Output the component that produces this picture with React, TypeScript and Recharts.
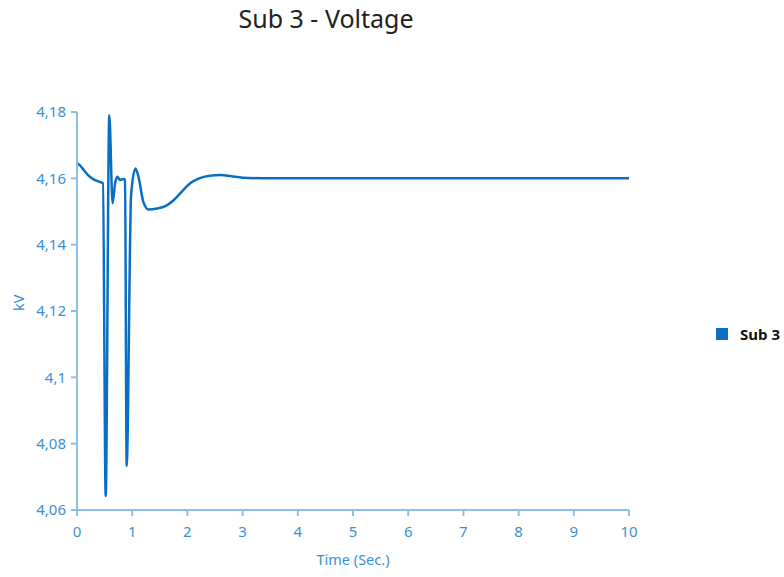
import React from 'react';
import { LineChart, Line, XAxis, YAxis } from 'recharts';

// time in seconds, voltage in kV
const times = [
  0, 0.05, 0.1, 0.2, 0.3, 0.4, 0.47, 0.52, 0.585, 0.645, 0.69, 0.73, 0.78, 0.84, 0.87,
  0.9, 0.98, 1.06, 1.12, 1.2, 1.3, 1.45, 1.6, 1.75, 1.9, 2.05, 2.2, 2.4, 2.6, 2.8, 3.0,
  3.5, 4, 5, 6, 7, 8, 9, 10,
];
const sub3 = [
  4.1645, 4.164, 4.163, 4.161, 4.1597, 4.159, 4.1585, 4.0642, 4.179, 4.1525, 4.1585, 4.1605,
  4.1595, 4.1598, 4.1595, 4.0733, 4.155, 4.163, 4.16, 4.153, 4.1506, 4.1509, 4.1516, 4.1534,
  4.156, 4.1585, 4.1599, 4.1608, 4.161, 4.1606, 4.1602, 4.16, 4.16, 4.16, 4.16, 4.16, 4.16,
  4.16, 4.16,
];
const xTicks = [0, 1, 2, 3, 4, 5, 6, 7, 8, 9, 10];
const yTicks = [4.06, 4.08, 4.1, 4.12, 4.14, 4.16, 4.18];

const data = times.map((t, i) => ({ t, v: sub3[i] }));

const FONT = '"Segoe UI", "Noto Sans", "Open Sans", sans-serif';
const AXIS = '#8cc0ea';
const TICK = '#3a8fd9';
const LINE = '#0a6fc4';

const fmt = (v: number) => Number(v.toFixed(2)).toString().replace('.', ',');

export default function App() {
  return (
    <div style={{ position: 'absolute', left: 0, top: 0, width: 784, height: 577, background: '#fff' }}>
      <div
        style={{
          position: 'absolute', top: 1, left: 0, width: 652, textAlign: 'center',
          fontFamily: FONT, fontSize: 25, color: '#222',
        }}
      >
        Sub 3 - Voltage
      </div>
      <div
        style={{
          position: 'absolute', left: 716, top: 324, display: 'flex', alignItems: 'center',
          fontFamily: FONT,
        }}
      >
        <div style={{ width: 12, height: 12, background: LINE, marginRight: 12 }} />
        <span style={{ fontSize: 15, fontWeight: 700, color: '#111' }}>Sub 3</span>
      </div>
      <LineChart
        width={784}
        height={577}
        data={data}
        margin={{ top: 112, right: 155, bottom: 10, left: 17 }}
        style={{ fontFamily: FONT }}
      >
        <XAxis
          dataKey="t"
          type="number"
          domain={[0, 10]}
          ticks={xTicks}
          stroke={AXIS}
          strokeWidth={2}
          tickSize={6}
          tick={{ fill: TICK, fontSize: 15, dy: 8 }}
          height={57}
          label={{ value: 'Time (Sec.)', position: 'insideBottom', offset: 2, fill: TICK, fontSize: 14.5 }}
        />
        <YAxis
          type="number"
          domain={[4.06, 4.18]}
          ticks={yTicks}
          stroke={AXIS}
          strokeWidth={2}
          tickSize={6}
          tick={{ fill: TICK, fontSize: 15, dx: -3 }}
          tickFormatter={fmt}
          width={60}
          label={{ value: 'kV', angle: -90, position: 'insideLeft', offset: 2, fill: TICK, fontSize: 14.5 }}
        />
        <Line
          type="monotone"
          dataKey="v"
          name="Sub 3"
          stroke={LINE}
          strokeWidth={2.5}
          dot={false}
          isAnimationActive={false}
        />
      </LineChart>
    </div>
  );
}
